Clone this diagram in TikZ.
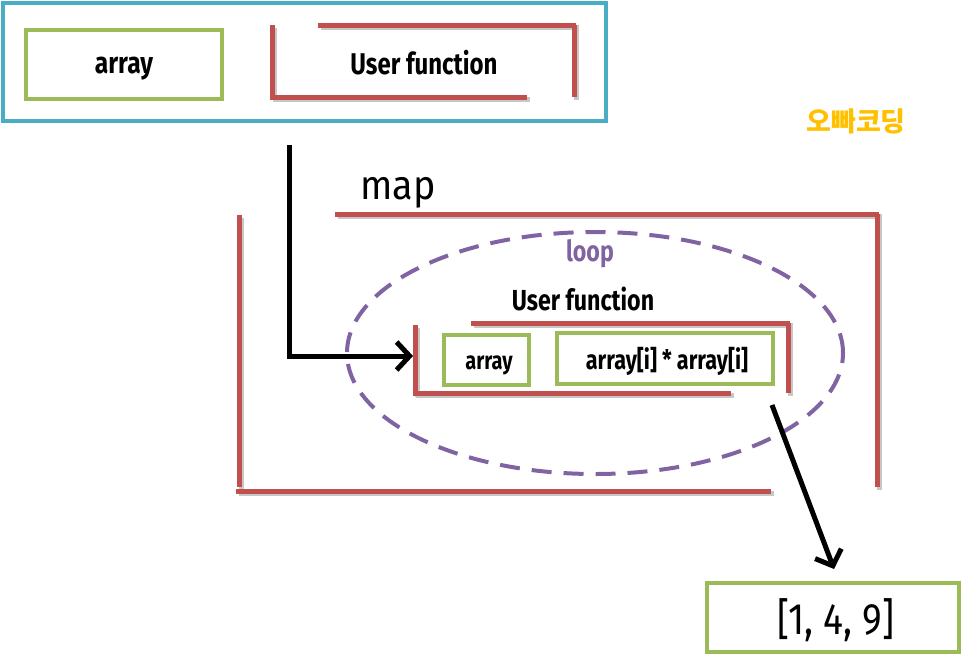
\documentclass[tikz,border=0pt]{standalone}
\usepackage{fontspec}
\setmainfont{Fira Sans}
\newfontfamily\krfont{Noto Sans CJK KR}
\usetikzlibrary{arrows.meta}
\definecolor{cred}{HTML}{C0504D}
\definecolor{cgreen}{HTML}{9BBB59}
\definecolor{cblue}{HTML}{4BACC6}
\definecolor{cpurple}{HTML}{8064A2}
\definecolor{cgold}{HTML}{FFC000}
\newcommand{\nar}[1]{\scalebox{0.8}[1]{#1}}
\tikzset{
  gbox/.style={draw=cgreen, line width=4pt, minimum width=#1, inner sep=0pt},
  redbar/.style={draw=cred, line width=5pt},
  shadowbar/.style={draw=black!22, line width=5pt},
  blk/.style={draw=black, line width=5pt, -{Straight Barb[length=13pt,width=28pt,line width=5pt]}},
  lbl/.style={font=\bfseries\fontsize{30}{32}\selectfont, inner sep=0pt},
}
\begin{document}
\begin{tikzpicture}[x=1pt,y=-1pt]
\useasboundingbox (0,0) rectangle (963,656);
% top box
\node[draw=cblue, line width=4pt, minimum width=603pt, minimum height=118pt] (topbox) at (304.5,62) {};
\node[gbox=196pt, minimum height=69pt] (arr1) at (124,64.5) {};
\node[lbl] (arr1t) at (124,69) {\scalebox{0.82}[1]{array}};
% top red bracket
\foreach \s/\st in {2.5/shadowbar,0/redbar}{
  \begin{scope}[shift={(\s,\s)}]
  \path[\st] (272,25) -- (272,97);
  \path[\st] (270,97) -- (527,97);
  \path[\st] (318,25) -- (576,25);
  \path[\st] (574,25) -- (574,97);
  \end{scope}
}
\node[lbl] (uf1) at (424,63) {\nar{User function}};
% korean
\node[inner sep=0pt, text=cgold, font=\krfont\bfseries\fontsize{27}{29}\selectfont] (kr) at (856,121) {오빠코딩};
% map
\node[inner sep=0pt, font=\fontsize{41}{43}\selectfont] (map) at (398,193) {\scalebox{0.92}[1]{map}};
% big red bracket
\foreach \s/\st in {2.5/shadowbar,0/redbar}{
  \begin{scope}[shift={(\s,\s)}]
  \path[\st] (239,215) -- (239,487);
  \path[\st] (236,491) -- (771,491);
  \path[\st] (335,214) -- (879,214);
  \path[\st] (877,214) -- (877,487);
  \end{scope}
}
% loop ellipse
\draw[cpurple, line width=4pt, dash pattern=on 20pt off 12pt] (595,353) ellipse [x radius=248pt, y radius=121pt];
\node[inner sep=0pt, text=cpurple, font=\bfseries\fontsize{29}{31}\selectfont] (loop) at (590,254) {\nar{loop}};
\node[lbl, font=\bfseries\fontsize{29}{31}\selectfont] (uf2) at (583,299) {\nar{User function}};
% inner red bracket
\foreach \s/\st in {2.5/shadowbar,0/redbar}{
  \begin{scope}[shift={(\s,\s)}]
  \path[\st] (415,325) -- (415,394);
  \path[\st] (413,393) -- (731,393);
  \path[\st] (471,323) -- (790,323);
  \path[\st] (788,323) -- (788,393);
  \end{scope}
}
\coordinate (inleft) at (413,356);
\node[gbox=85pt, minimum height=50pt] (arr2) at (486.5,360) {};
\node[lbl, font=\bfseries\fontsize{25}{27}\selectfont] at (489,365) {\nar{array}};
\node[gbox=216pt, minimum height=51pt] (expr) at (665,358.5) {};
\node[lbl, font=\bfseries\fontsize{27}{29}\selectfont] at (667,361) {\nar{array[i] * array[i]}};
% result
\node[gbox=252pt, minimum height=69pt] (res) at (833,617.5) {};
\node[inner sep=0pt, font=\fontsize{44}{46}\selectfont] at (836,620) {\scalebox{0.85}[1]{[1, 4, 9]}};
% arrows
\coordinate (a1) at (289,145);
\coordinate (bend) at (289,356);
\draw[blk] (a1) -- (bend) -- (inleft);
\coordinate (a2) at (772,405);
\coordinate (a2e) at (834,569);
\draw[blk] (a2) -- (a2e);
\end{tikzpicture}
\end{document}
